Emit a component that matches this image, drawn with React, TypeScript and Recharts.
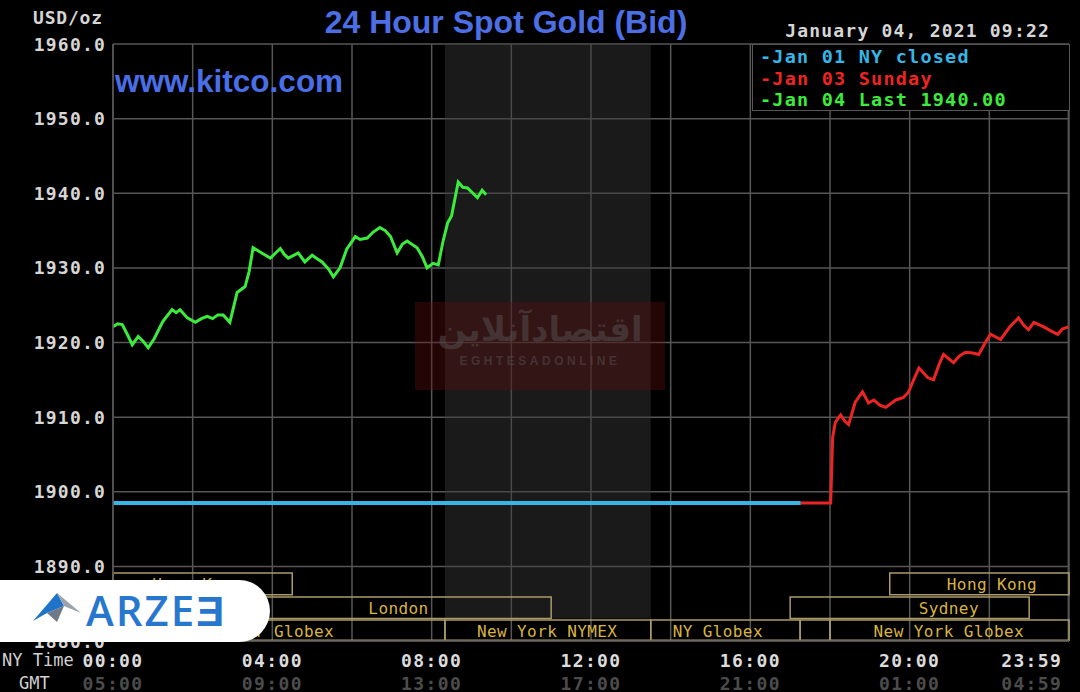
import React from 'react';
import { ComposedChart, Line, XAxis, YAxis, CartesianGrid, ReferenceArea, Legend } from 'recharts';

// minutes after NY midnight -> bid price
const greenMinutes = [0, 7, 14, 22, 29, 38, 45, 53, 62, 75, 89, 95, 101, 112, 124, 133, 142, 150, 158, 166, 176, 187, 199, 205, 211, 224, 237, 245, 252, 258, 264, 279, 289, 300, 308, 315, 325, 332, 342, 352, 365, 372, 383, 392, 402, 410, 418, 428, 436, 443, 458, 466, 473, 482, 490, 497, 504, 510, 520, 527, 534, 549, 556, 562];
const greenPrices = [1922.1, 1922.5, 1922.4, 1921.0, 1919.7, 1920.8, 1920.2, 1919.3, 1920.5, 1922.8, 1924.4, 1924.0, 1924.4, 1923.3, 1922.7, 1923.2, 1923.5, 1923.2, 1923.7, 1923.7, 1922.7, 1926.7, 1927.5, 1929.5, 1932.7, 1932.0, 1931.3, 1932.0, 1932.6, 1931.8, 1931.3, 1932.0, 1930.8, 1931.7, 1931.2, 1930.8, 1929.8, 1928.8, 1930.0, 1932.5, 1934.2, 1933.8, 1934.0, 1934.8, 1935.4, 1935.0, 1934.2, 1932.0, 1933.2, 1933.6, 1932.7, 1931.5, 1930.0, 1930.6, 1930.4, 1933.5, 1936.0, 1937.0, 1941.5, 1940.8, 1940.7, 1939.4, 1940.4, 1939.8];

const redMinutes = [1036, 1081, 1084, 1088, 1096, 1102, 1108, 1118, 1129, 1138, 1146, 1155, 1164, 1179, 1190, 1198, 1206, 1214, 1227, 1236, 1244, 1251, 1266, 1275, 1284, 1295, 1304, 1314, 1322, 1337, 1350, 1364, 1372, 1379, 1387, 1402, 1412, 1423, 1430, 1439];
const redPrices = [1898.5, 1898.5, 1907.3, 1909.3, 1910.3, 1909.5, 1909.0, 1912.0, 1913.4, 1911.9, 1912.3, 1911.6, 1911.3, 1912.3, 1912.6, 1913.3, 1915.0, 1916.6, 1915.3, 1915.0, 1917.0, 1918.4, 1917.3, 1918.2, 1918.7, 1918.6, 1918.4, 1920.0, 1921.1, 1920.4, 1922.0, 1923.3, 1922.3, 1921.7, 1922.7, 1922.1, 1921.6, 1921.1, 1921.8, 1922.1];

const blueMinutes = [0, 1036];
const bluePrices = [1898.5, 1898.5];

const yTicks = [1880, 1890, 1900, 1910, 1920, 1930, 1940, 1950, 1960];
const gridMinutes = [0, 120, 240, 360, 480, 600, 720, 840, 960, 1080, 1200, 1320, 1439];
const labelMinutes = [0, 240, 480, 720, 960, 1200, 1439];
const nyLabels = ['00:00', '04:00', '08:00', '12:00', '16:00', '20:00', '23:59'];
const gmtLabels = ['05:00', '09:00', '13:00', '17:00', '21:00', '01:00', '04:59'];

// market sessions (minutes), row 0 = top
const sessionNames = ['Hong Kong', 'Hong Kong', 'London', 'Sydney', 'NY Globex', 'New York NYMEX', 'NY Globex', '', 'New York Globex'];
const sessionStarts = [0, 1170, 180, 1020, 0, 500, 810, 1035, 1080];
const sessionEnds = [270, 1440, 660, 1380, 500, 810, 1035, 1080, 1440];
const sessionRows = [0, 0, 1, 1, 2, 2, 2, 2, 2];
const sessionLabelAt = [127, 1324, 430, 1259, 265, 654, 911, 1057, 1259];
const rowBands = [[1886.2, 1889.1], [1883.0, 1885.9], [1880.1, 1882.8]];

const MONO = "'DejaVu Sans Mono', 'Liberation Mono', monospace";
const SANS = "'Liberation Sans', Arial, sans-serif";
const GRID = '#565656';

const zip = (m: number[], p: number[]) => m.map((t, i) => ({ t, v: p[i] }));
const greenData = zip(greenMinutes, greenPrices);
const redData = zip(redMinutes, redPrices);
const blueData = zip(blueMinutes, bluePrices);

const YTick = (props: any) => {
  const { x, y, payload } = props;
  return (
    <text x={x + 1} y={y} textAnchor="end" dominantBaseline="central" fill="#d6d6d6"
      fontFamily={MONO} fontWeight="bold" fontSize={18} letterSpacing={1.2}>
      {Number(payload.value).toFixed(1)}
    </text>
  );
};

const XTick = (props: any) => {
  const { x, y, payload } = props;
  const i = labelMinutes.indexOf(payload.value);
  if (i < 0) return null;
  const last = i === labelMinutes.length - 1;
  const anchor = last ? 'end' : 'middle';
  const tx = last ? x - 6 : x;
  return (
    <g fontFamily={MONO} fontWeight="bold" fontSize={18} letterSpacing={1.4}>
      <text x={tx} y={y + 19} textAnchor={anchor} dominantBaseline="central" fill="#dcdcdc">{nyLabels[i]}</text>
      <text x={tx} y={y + 42} textAnchor={anchor} dominantBaseline="central" fill="#4c4c4c">{gmtLabels[i]}</text>
    </g>
  );
};

const sessionLabel = (idx: number) => (props: any) => {
  const vb = props.viewBox || {};
  const span = sessionEnds[idx] - sessionStarts[idx];
  const cx = vb.x + ((sessionLabelAt[idx] - sessionStarts[idx]) / span) * vb.width;
  return (
    <text x={cx} y={vb.y + vb.height / 2 + 1} textAnchor="middle" dominantBaseline="central"
      fill="#d9b441" fontFamily={MONO} fontSize={16} letterSpacing={0.4}>
      {sessionNames[idx]}
    </text>
  );
};

const renderLegend = (props: any) => (
  <div style={{
    width: 318, height: 67, boxSizing: 'border-box', border: `1px solid ${GRID}`, background: '#000',
    padding: '1px 0 0 7px', fontFamily: MONO, fontWeight: 'bold', fontSize: 18.5, letterSpacing: 1.2, lineHeight: '21.5px',
  }}>
    {(props.payload || []).map((e: any) => (
      <div key={e.value} style={{ color: e.color, whiteSpace: 'pre' }}>-{e.value}</div>
    ))}
  </div>
);

export default function App() {
  return (
    <div style={{ position: 'relative', width: 1080, height: 692, background: '#000', overflow: 'hidden' }}>
      <style>{'body{margin:0;background:#000}'}</style>
      <ComposedChart width={1080} height={692} margin={{ top: 44, right: 11, bottom: 0, left: 0 }}>
        <CartesianGrid stroke={GRID} strokeWidth={1.5} />
        <ReferenceArea x1={500} x2={810} y1={1883} y2={1960} fill="#3a3a3a" fillOpacity={0.45} stroke="none" ifOverflow="hidden" />
        <XAxis dataKey="t" type="number" domain={[0, 1440]} ticks={gridMinutes} allowDuplicatedCategory={false}
          height={51} tickSize={0} tickMargin={0} tick={<XTick />} axisLine={{ stroke: GRID, strokeWidth: 1.5 }} interval={0} />
        <YAxis type="number" domain={[1880, 1960]} ticks={yTicks} width={113} tickSize={0} tickMargin={8}
          tick={<YTick />} axisLine={{ stroke: GRID, strokeWidth: 1.5 }} interval={0} />
        {sessionNames.map((_, i) => (
          <ReferenceArea key={i} x1={sessionStarts[i]} x2={sessionEnds[i]}
            y1={rowBands[sessionRows[i]][0]} y2={rowBands[sessionRows[i]][1]}
            fill="none" fillOpacity={0} stroke="#a99a68" strokeWidth={1.5} label={sessionLabel(i)} />
        ))}
        <Legend verticalAlign="middle" align="center" layout="vertical" content={renderLegend}
          wrapperStyle={{ top: 44, left: 752, right: 'auto', bottom: 'auto', width: 318 }} />
        <Line data={blueData} dataKey="v" name="Jan 01 NY closed" type="linear" stroke="#35b6e6" strokeWidth={4}
          dot={false} isAnimationActive={false} />
        <Line data={redData} dataKey="v" name="Jan 03 Sunday" type="linear" stroke="#ec2424" strokeWidth={3}
          dot={false} isAnimationActive={false} />
        <Line data={greenData} dataKey="v" name="Jan 04 Last 1940.00" type="linear" stroke="#3cec3c" strokeWidth={3}
          dot={false} isAnimationActive={false} />
      </ComposedChart>

      <div style={{ position: 'absolute', left: 256, top: 3, width: 500, textAlign: 'center', fontFamily: SANS, fontWeight: 'bold', fontSize: 32, color: '#4c6fe6', lineHeight: '38px' }}>
        24 Hour Spot Gold (Bid)
      </div>
      <div style={{ position: 'absolute', left: 33, top: 7, fontFamily: MONO, fontWeight: 'bold', fontSize: 18, letterSpacing: 0.8, color: '#d6d6d6', lineHeight: '22px' }}>
        USD/oz
      </div>
      <div style={{ position: 'absolute', right: 30, top: 20, fontFamily: MONO, fontWeight: 'bold', fontSize: 18, letterSpacing: 1.2, color: '#d6d6d6', lineHeight: '22px' }}>
        January 04, 2021 09:22
      </div>
      <div style={{ position: 'absolute', left: 115, top: 62, fontFamily: SANS, fontWeight: 'bold', fontSize: 31.5, color: '#4a6ee6', lineHeight: '38px' }}>
        www.kitco.com
      </div>
      <div style={{ position: 'absolute', left: 2, top: 650, fontFamily: MONO, fontSize: 17, color: '#d0d0d0', lineHeight: '20px' }}>NY Time</div>
      <div style={{ position: 'absolute', left: 19, top: 673, fontFamily: MONO, fontSize: 17, color: '#d0d0d0', lineHeight: '20px' }}>GMT</div>

      {/* eghtesadonline watermark */}
      <div style={{ position: 'absolute', left: 415, top: 302, width: 250, height: 88, background: 'rgba(95,12,12,0.38)', textAlign: 'center', color: 'rgba(80,72,72,0.6)' }}>
        <div style={{ fontFamily: "'Noto Sans', 'DejaVu Sans', sans-serif", fontWeight: 'bold', fontSize: 34, lineHeight: '52px', direction: 'rtl' }}>اقتصادآنلاین</div>
        <div style={{ fontFamily: SANS, fontWeight: 'bold', fontSize: 12, letterSpacing: 3.5, lineHeight: '14px' }}>EGHTESADONLINE</div>
      </div>

      {/* arzee badge */}
      <div style={{ position: 'absolute', left: 0, top: 580, width: 270, height: 62, background: '#fff', borderRadius: '0 31px 31px 0' }}>
        <svg width={90} height={62} style={{ position: 'absolute', left: 0, top: 0 }}>
          <polygon points="33,41 57,13 64,26 47,33" fill="#1f74c9" />
          <polygon points="57,13 81,33 64,26" fill="#9aa3ad" />
          <polygon points="47,33 57,42 64,26" fill="#6f7a86" />
        </svg>
        <div style={{ position: 'absolute', left: 86, top: 7, fontFamily: "'Open Sans', sans-serif", fontWeight: 600, fontSize: 42, letterSpacing: 2, color: '#2777cf', lineHeight: '46px' }}>
          ARZEƎ
        </div>
      </div>
    </div>
  );
}
